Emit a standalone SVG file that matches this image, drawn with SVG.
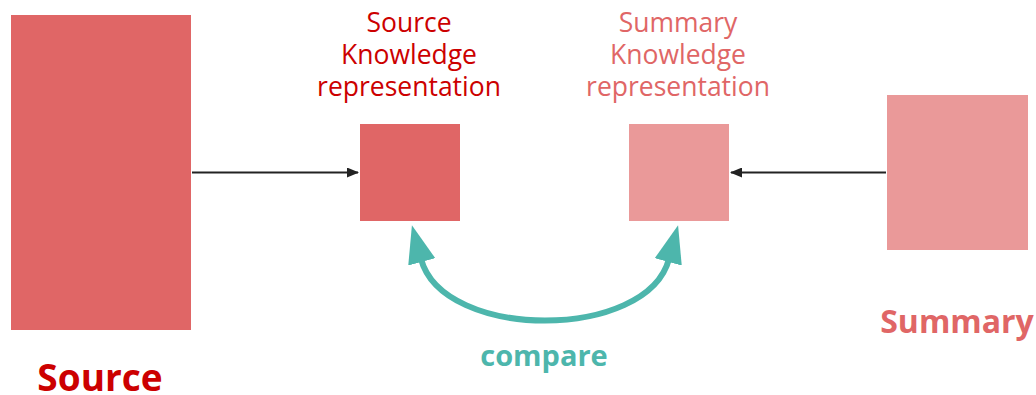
<svg xmlns="http://www.w3.org/2000/svg" width="1036" height="395" viewBox="0 0 1036 395">
<style>
.dark{fill:#e06666}
.light{fill:#ea9999}
text{font-family:"Open Sans","Liberation Sans",sans-serif;text-anchor:middle}
.lbl{font-size:26.5px}
.big{font-weight:bold}
.link{stroke:#222;stroke-width:2;fill:none}
.cmp{stroke:#4db6ac;stroke-width:6;fill:none}
</style>
<defs>
<marker id="ah" viewBox="0 0 12 10" refX="11" refY="5" markerWidth="12" markerHeight="10" markerUnits="userSpaceOnUse" orient="auto"><path d="M0,0 L12,5 L0,10 z" fill="#222"/></marker>
<marker id="tah" viewBox="0 0 38 28" refX="3" refY="14" markerWidth="38" markerHeight="28" markerUnits="userSpaceOnUse" orient="auto-start-reverse"><path d="M0,0 L38,14 L0,28 z" fill="#4db6ac"/></marker>
</defs>
<g id="source"><rect class="dark" x="11" y="15" width="180" height="315"/><text class="big" x="100" y="391" font-size="37" fill="#cc0000">Source</text></g>
<g id="source-kr"><rect class="dark" x="360" y="124" width="100" height="97"/><text class="lbl" x="409" y="32" fill="#cc0000"><tspan x="409">Source</tspan><tspan x="409" dy="32">Knowledge</tspan><tspan x="409" dy="32">representation</tspan></text></g>
<g id="summary-kr"><rect class="light" x="629" y="124" width="100" height="97"/><text class="lbl" x="678" y="32" fill="#e06666"><tspan x="678">Summary</tspan><tspan x="678" dy="32">Knowledge</tspan><tspan x="678" dy="32">representation</tspan></text></g>
<g id="summary"><rect class="light" x="887" y="95" width="141" height="155"/><text class="big" x="957" y="333" font-size="32" fill="#e06666">Summary</text></g>
<g id="connectors">
<line class="link" x1="192" y1="172.5" x2="358" y2="172.5" marker-end="url(#ah)"/>
<line class="link" x1="886" y1="172.5" x2="731" y2="172.5" marker-end="url(#ah)"/>
<path class="cmp" d="M421,259 C443,341 647,341 669,259" marker-start="url(#tah)" marker-end="url(#tah)"/>
<text class="big" x="544" y="366" font-size="29" fill="#4db6ac">compare</text>
</g>
</svg>
